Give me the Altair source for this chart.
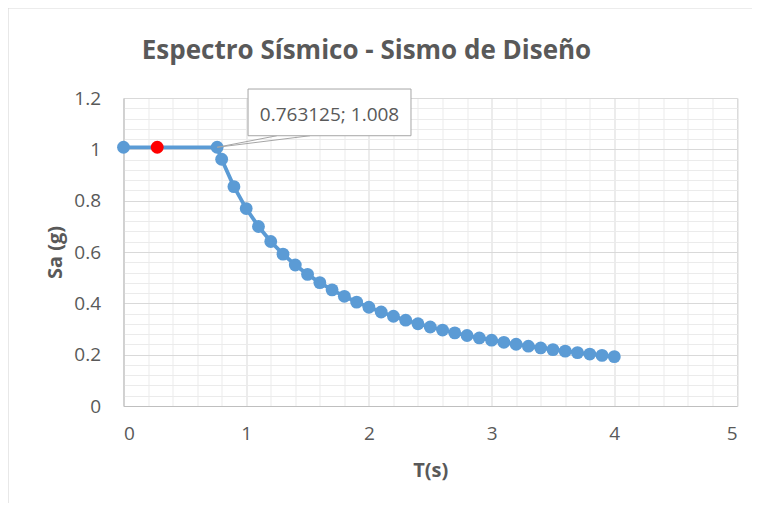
import altair as alt
import pandas as pd

# ---- data ----
periods = [0.0, 0.763125, 0.8, 0.9, 1.0, 1.1, 1.2, 1.3, 1.4, 1.5, 1.6, 1.7, 1.8, 1.9,
           2.0, 2.1, 2.2, 2.3, 2.4, 2.5, 2.6, 2.7, 2.8, 2.9, 3.0, 3.1, 3.2, 3.3,
           3.4, 3.5, 3.6, 3.7, 3.8, 3.9, 4.0]
sa_values = [1.008, 1.008, 0.9615, 0.8547, 0.7692, 0.6993, 0.6410, 0.5917, 0.5494,
             0.5128, 0.4808, 0.4525, 0.4273, 0.4048, 0.3846, 0.3663, 0.3496, 0.3344,
             0.3205, 0.3077, 0.2958, 0.2849, 0.2747, 0.2652, 0.2564, 0.2481, 0.2404,
             0.2331, 0.2262, 0.2198, 0.2137, 0.2079, 0.2024, 0.1972, 0.1923]
red_period = [0.275]
red_sa = [1.008]

x_ticks = [0, 1, 2, 3, 4, 5]
y_ticks = [0, 0.2, 0.4, 0.6, 0.8, 1.0, 1.2]
x_minor = [0.2, 0.4, 0.6, 0.8, 1.2, 1.4, 1.6, 1.8, 2.2, 2.4, 2.6, 2.8, 3.2, 3.4, 3.6,
           3.8, 4.2, 4.4, 4.6, 4.8]
y_minor = [0.04, 0.08, 0.12, 0.16, 0.24, 0.28, 0.32, 0.36, 0.44, 0.48, 0.52, 0.56,
           0.64, 0.68, 0.72, 0.76, 0.84, 0.88, 0.92, 0.96, 1.04, 1.08, 1.12, 1.16]

title_text = "Espectro Sísmico - Sismo de Diseño"
x_title = "T(s)"
y_title = "Sa (g)"
callout_text = ["0.763125; 1.008"]

# callout placement (data units)
box_x = [1.015]
box_x2 = [2.343]
box_y = [1.053]
box_y2 = [1.235]
label_x = [1.679]
label_y = [1.134]
wedge_x = [0.763125, 0.763125]
wedge_y = [1.008, 1.008]
wedge_x2 = [1.25, 1.52]
wedge_y2 = [1.053, 1.053]

FONT = "Open Sans"
GREY = "#595959"
W, H = 613.5, 308

series = pd.DataFrame({"T": periods, "Sa": sa_values})
red = pd.DataFrame({"T": red_period, "Sa": red_sa})
box = pd.DataFrame({"x": box_x, "x2": box_x2, "y": box_y, "y2": box_y2})
lab = pd.DataFrame({"x": label_x, "y": label_y, "t": callout_text})
wedge = pd.DataFrame({"x": wedge_x, "y": wedge_y, "x2": wedge_x2, "y2": wedge_y2})

xscale = alt.Scale(domain=[0, 5], nice=False, zero=False)
yscale = alt.Scale(domain=[0, 1.2], nice=False, zero=False)

# minor grid layer (axes on top / right, grid only)
minor = alt.Chart(series).mark_point(opacity=0).encode(
    x=alt.X("T:Q", scale=xscale, axis=alt.Axis(
        orient="top", values=x_minor, grid=True, gridColor="#EBEBEB", gridWidth=1,
        labels=False, ticks=False, domain=False, title=None)),
    y=alt.Y("Sa:Q", scale=yscale, axis=alt.Axis(
        orient="right", values=y_minor, grid=True, gridColor="#EBEBEB", gridWidth=1,
        labels=False, ticks=False, domain=False, title=None)),
)

major = alt.Chart(series).mark_line(color="#5B9BD5", strokeWidth=3.8).encode(
    x=alt.X("T:Q", scale=xscale, axis=alt.Axis(
        orient="bottom", values=x_ticks, grid=True, gridColor="#D9D9D9", gridWidth=1,
        domain=True, domainColor="#BFBFBF", domainWidth=1, ticks=False, tickSize=0,
        labelFont=FONT, labelFontSize=19, labelColor=GREY, labelPadding=18,
        labelBaseline="top", format="d",
        title=x_title, titleFont=FONT, titleFontSize=20, titleFontWeight="bold",
        titleColor=GREY, titleX=W / 2, titleY=64, titleBaseline="middle")),
    y=alt.Y("Sa:Q", scale=yscale, axis=alt.Axis(
        orient="left", values=y_ticks, grid=True, gridColor="#D9D9D9", gridWidth=1,
        domain=True, domainColor="#BFBFBF", domainWidth=1, ticks=False, tickSize=0,
        labelFont=FONT, labelFontSize=19, labelColor=GREY, labelPadding=23,
        format="~g",
        title=y_title, titleFont=FONT, titleFontSize=20, titleFontWeight="bold",
        titleColor=GREY, titleX=-68.5, titleY=H / 2, titleBaseline="middle",
        titleAngle=270)),
)

def xq(field):
    return alt.X(field, scale=xscale, axis=None)

def yq(field):
    return alt.Y(field, scale=yscale, axis=None)

pts = alt.Chart(series).mark_circle(color="#5B9BD5", opacity=1, size=165).encode(
    x=xq("T:Q"), y=yq("Sa:Q"))

redpt = alt.Chart(red).mark_circle(color="#FF0000", opacity=1, size=165).encode(
    x=xq("T:Q"), y=yq("Sa:Q"))

wedge_layer = alt.Chart(wedge).mark_rule(color="#A6A6A6", strokeWidth=1).encode(
    x=xq("x:Q"), y=yq("y:Q"), x2="x2:Q", y2="y2:Q")

box_layer = alt.Chart(box).mark_rect(fill="white", stroke="#A6A6A6", strokeWidth=1).encode(
    x=xq("x:Q"), x2="x2:Q", y=yq("y:Q"), y2="y2:Q")

label_layer = alt.Chart(lab).mark_text(font=FONT, fontSize=19, color=GREY,
                                       align="center", baseline="middle").encode(
    x=xq("x:Q"), y=yq("y:Q"), text="t:N")

title_layer = alt.Chart(pd.DataFrame({"t": [title_text]})).mark_text(
    font=FONT, fontSize=26, fontWeight="bold", color=GREY, align="center",
    baseline="alphabetic").encode(
    x=alt.value(243), y=alt.value(-39), text="t:N")

frame = alt.Chart(pd.DataFrame({"a": [0]})).mark_rect(
    fill=None, stroke="#D9D9D9", strokeWidth=1.2).encode(
    x=alt.value(-115.5), x2=alt.value(700), y=alt.value(-90), y2=alt.value(430))

chart = alt.layer(
    frame, minor, major, pts, redpt, wedge_layer, box_layer, label_layer, title_layer
).resolve_axis(x="independent", y="independent").properties(
    width=W, height=H,
    autosize=alt.AutoSizeParams(type="none"),
    padding={"left": 115.5, "top": 90, "right": 15, "bottom": 97},
).configure_view(stroke=None).configure(background="white")

chart.save("out.html", embed_options={"renderer": "svg", "actions": False})
